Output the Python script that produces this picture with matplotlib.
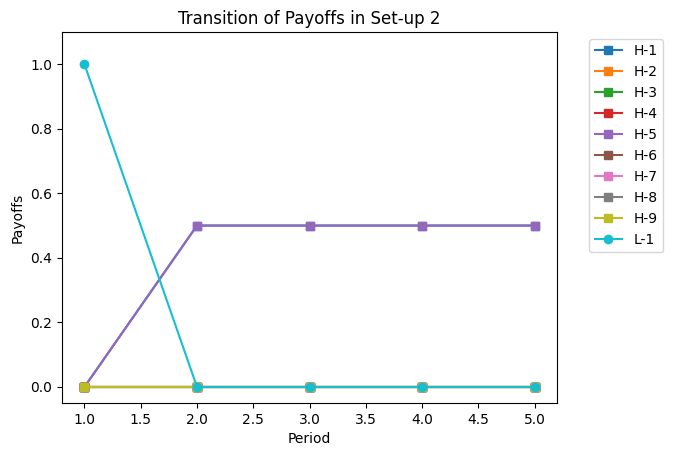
import matplotlib
matplotlib.use("Agg")
import matplotlib.pyplot as plt

periods = [1, 2, 3, 4, 5]
h_labels = ["H-1", "H-2", "H-3", "H-4", "H-5", "H-6", "H-7", "H-8", "H-9"]
h_values = [
    [0, 0.5, 0.5, 0.5, 0.5],
    [0, 0, 0, 0, 0],
    [0, 0, 0, 0, 0],
    [0, 0, 0, 0, 0],
    [0, 0.5, 0.5, 0.5, 0.5],
    [0, 0, 0, 0, 0],
    [0, 0, 0, 0, 0],
    [0, 0, 0, 0, 0],
    [0, 0, 0, 0, 0],
]
l_label = "L-1"
l_values = [1, 0, 0, 0, 0]

fig = plt.figure(figsize=(6.73, 4.55), dpi=100)
ax = fig.add_axes([0.092, 0.114, 0.736, 0.816])
for lab, vals in zip(h_labels, h_values):
    ax.plot(periods, vals, marker="s", label=lab)
ax.plot(periods, l_values, marker="o", label=l_label)
ax.set_ylim(-0.05, 1.1)
ax.set_title("Transition of Payoffs in Set-up 2")
ax.set_xlabel("Period")
ax.set_ylabel("Payoffs")
ax.legend(bbox_to_anchor=(1.05, 1), loc="upper left")
fig.savefig("out.png", dpi=100)
